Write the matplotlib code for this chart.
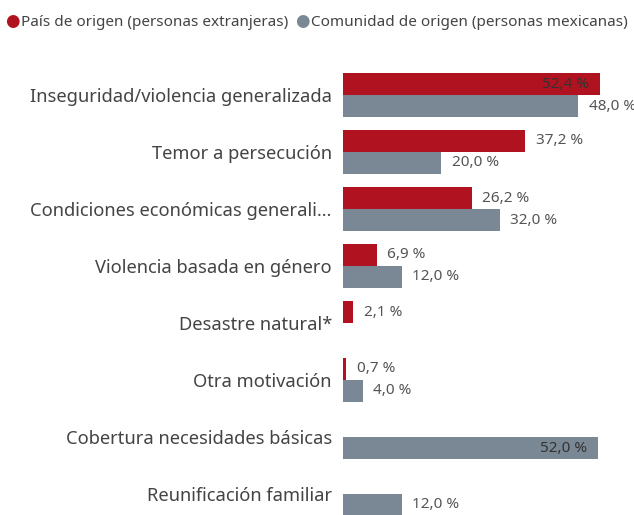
import matplotlib
matplotlib.use("Agg")
import matplotlib.pyplot as plt
import numpy as np

categories = ["Inseguridad/violencia generalizada", "Temor a persecución",
              "Condiciones económicas generali…", "Violencia basada en género",
              "Desastre natural*", "Otra motivación",
              "Cobertura necesidades básicas", "Reunificación familiar"]
pais = [52.4, 37.2, 26.2, 6.9, 2.1, 0.7, np.nan, np.nan]
comunidad = [48.0, 20.0, 32.0, 12.0, np.nan, 4.0, 52.0, 12.0]
series_names = ["País de origen (personas extranjeras)",
                "Comunidad de origen (personas mexicanas)"]

RED = "#B0131F"
GRAY = "#7A8895"
FONT = ["Noto Sans", "DejaVu Sans"]
plt.rcParams['font.family'] = FONT

W, H = 634, 515
fig = plt.figure(figsize=(W/100, H/100), dpi=100)
ax_left = 343 / W
ax = fig.add_axes([ax_left, 0, 1 - ax_left, (H - 60) / H])

px_per_unit = 4.905
xmax = (W - 343) / px_per_unit
row = 57.0
ax.set_xlim(0, xmax)
ax.set_ylim((515 - 95) / row, -(95 - 60) / row)

bh = 22 / row
y = np.arange(len(categories))
for vals, off, col in [(pais, -bh/2, RED), (comunidad, bh/2, GRAY)]:
    for i, v in enumerate(vals):
        if np.isnan(v):
            continue
        ax.barh(y[i] + off, v, height=bh, color=col, edgecolor="none")
        lbl = f"{v:.1f} %".replace(".", ",")
        if v > 50:
            ax.annotate(lbl, (v, y[i] + off), xytext=(-8, 0), textcoords="offset points",
                        ha="right", va="center", fontsize=11, color="#333333")
        else:
            ax.annotate(lbl, (v, y[i] + off), xytext=(7.5, 0), textcoords="offset points",
                        ha="left", va="center", fontsize=11, color="#555555")

ax.set_yticks(y)
ax.set_yticklabels(categories, fontsize=13.2, color="#444444")
ax.tick_params(axis="y", length=0, pad=8)
ax.set_xticks([])
for s in ax.spines.values():
    s.set_visible(False)

# legend
ly = 1 - 22 / H
fig.text(12 / W, ly, "●", color=RED, fontsize=12, ha="center", va="center")
fig.text(21 / W, ly, series_names[0], color="#444444", fontsize=11, ha="left", va="center")
fig.text(302 / W, ly, "●", color=GRAY, fontsize=12, ha="center", va="center")
fig.text(311 / W, ly, series_names[1], color="#444444", fontsize=11, ha="left", va="center")

fig.savefig("out.png", dpi=100)
